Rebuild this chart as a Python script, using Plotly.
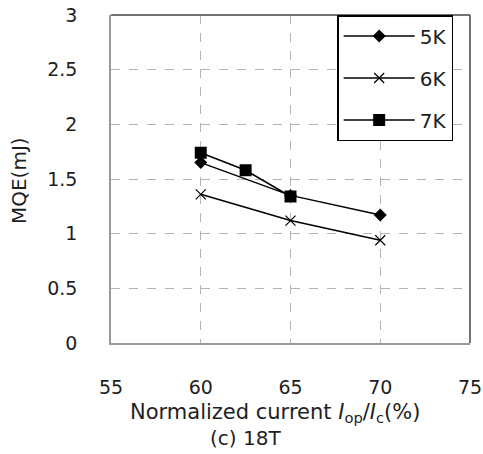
import plotly.graph_objects as go

# Normalized current Iop/Ic (%) and MQE (mJ) at 18 T
x_5k = [60, 65, 70]
mqe_5k = [1.65, 1.35, 1.17]

x_6k = [60, 65, 70]
mqe_6k = [1.36, 1.12, 0.94]

x_7k = [60, 62.5, 65]
mqe_7k = [1.74, 1.58, 1.34]

x_ticks = [55, 60, 65, 70, 75]
y_ticks = [0, 0.5, 1, 1.5, 2, 2.5, 3]
y_tick_text = ["0", "0.5", "1", "1.5", "2", "2.5", "3"]

FONT = "DejaVu Sans, Verdana, sans-serif"
TXT = "#1e1e1e"
FS = 19

fig = go.Figure()
fig.add_trace(go.Scatter(
    x=x_5k, y=mqe_5k, name="5K", mode="lines+markers", legendgroup="a",
    line=dict(color="black", width=1.5),
    marker=dict(symbol="diamond", size=10, color="black"),
))
fig.add_trace(go.Scatter(
    x=x_6k, y=mqe_6k, name="6K", mode="lines+markers", legendgroup="b",
    line=dict(color="black", width=1.5),
    marker=dict(symbol="x-thin", size=10, color="black",
                line=dict(color="black", width=1.2)),
))
fig.add_trace(go.Scatter(
    x=x_7k, y=mqe_7k, name="7K", mode="lines+markers", legendgroup="c",
    line=dict(color="black", width=1.5),
    marker=dict(symbol="square", size=12, color="black"),
))

fig.update_layout(
    width=483, height=454,
    margin=dict(l=111, r=13, t=15, b=111, autoexpand=False),
    paper_bgcolor="white", plot_bgcolor="white",
    font=dict(family=FONT, size=FS, color=TXT),
    showlegend=True,
    legend=dict(
        x=0.63, y=1, xanchor="left", yanchor="top",
        bordercolor="black", borderwidth=1.5, bgcolor="white",
        font=dict(size=20, color=TXT),
        traceorder="grouped", tracegroupgap=13,
        itemwidth=71,
    ),
    xaxis=dict(
        range=[55, 75], tickvals=x_ticks, ticks="", automargin=False,
        showgrid=True, gridcolor="#b4b4b4", griddash="dash", gridwidth=1,
        showline=True, linecolor="#999999", linewidth=1.5, mirror=False,
        zeroline=False, ticklabelstandoff=26,
        tickfont=dict(size=FS, color=TXT),
    ),
    yaxis=dict(
        range=[0, 3], tickvals=y_ticks, ticktext=y_tick_text, ticks="",
        automargin=False,
        showgrid=True, gridcolor="#b4b4b4", griddash="dash", gridwidth=1,
        showline=True, linecolor="#999999", linewidth=1.5, mirror=False,
        zeroline=False, ticklabelstandoff=28,
        tickfont=dict(size=FS, color=TXT),
    ),
    shapes=[
        dict(type="line", xref="paper", yref="paper", x0=0, x1=1, y0=1, y1=1,
             line=dict(color="#444444", width=1.5)),
        dict(type="line", xref="paper", yref="paper", x0=1, x1=1, y0=0, y1=1,
             line=dict(color="#444444", width=1.5)),
    ],
    annotations=[
        dict(text="MQE(mJ)", xref="paper", yref="paper", x=-0.258, y=0.495,
             xanchor="center", yanchor="middle", textangle=-90,
             showarrow=False, font=dict(size=20, color=TXT)),
        dict(text="Normalized current <i>I</i><sub>op</sub>/<i>I</i><sub>c</sub>(%)",
             xref="paper", yref="paper", x=0.457, y=-0.213, xanchor="center",
             yanchor="middle", showarrow=False, font=dict(size=21, color=TXT)),
        dict(text="(c) 18T", xref="paper", yref="paper", x=0.375, y=-0.29,
             xanchor="center", yanchor="middle", showarrow=False,
             font=dict(size=20, color=TXT)),
    ],
)

fig.write_html("out.html")
